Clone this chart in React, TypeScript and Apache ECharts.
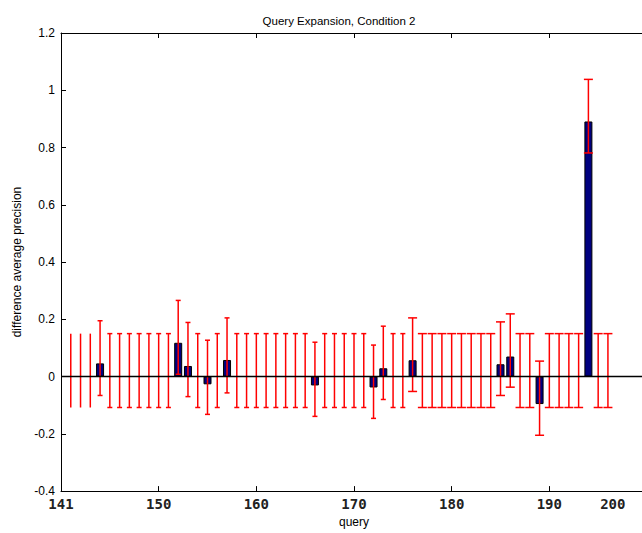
import React, { useEffect, useRef } from 'react';
import * as echarts from 'echarts';

const queries = [
  141, 142, 143, 144, 145, 146, 147, 148, 149, 150,
  151, 152, 153, 154, 155, 156, 157, 158, 159, 160,
  161, 162, 163, 164, 165, 166, 167, 168, 169, 170,
  171, 172, 173, 174, 175, 176, 177, 178, 179, 180,
  181, 182, 183, 184, 185, 186, 187, 188, 189, 190,
  191, 192, 193, 194, 195, 196,
];

const errLow = [
  -0.108, -0.108, -0.108, -0.066, -0.108, -0.108, -0.108, -0.108, -0.108, -0.108,
  -0.108, 0.008, -0.070, -0.108, -0.132, -0.108, -0.057, -0.108, -0.108, -0.108,
  -0.108, -0.108, -0.108, -0.108, -0.108, -0.139, -0.108, -0.108, -0.108, -0.108,
  -0.108, -0.146, -0.080, -0.108, -0.108, -0.052, -0.108, -0.108, -0.108, -0.108,
  -0.108, -0.108, -0.108, -0.108, -0.066, -0.037, -0.108, -0.108, -0.205, -0.108,
  -0.108, -0.108, -0.108, 0.781, -0.108, -0.108,
];

const errHigh = [
  0.15, 0.15, 0.15, 0.195, 0.15, 0.15, 0.15, 0.15, 0.15, 0.15,
  0.15, 0.266, 0.189, 0.15, 0.127, 0.15, 0.205, 0.15, 0.15, 0.15,
  0.15, 0.15, 0.15, 0.15, 0.15, 0.12, 0.15, 0.15, 0.15, 0.15,
  0.15, 0.11, 0.176, 0.15, 0.15, 0.205, 0.15, 0.15, 0.15, 0.15,
  0.15, 0.15, 0.15, 0.15, 0.191, 0.219, 0.15, 0.15, 0.054, 0.15,
  0.15, 0.15, 0.15, 1.038, 0.15, 0.15,
];

const barQueries = [144, 152, 153, 155, 157, 166, 172, 173, 176, 185, 186, 189, 194];
const barValues = [0.046, 0.118, 0.037, -0.027, 0.058, -0.031, -0.038, 0.029, 0.057, 0.043, 0.07, -0.096, 0.891];

const xTickValues = [150, 160, 170, 180, 190];
const xLabelValues = [140, 150, 160, 170, 180, 190, 196.5];
const xLabelTexts = ['141', '150', '160', '170', '180', '190', '200'];

const narrow = '"Liberation Sans Narrow", "Liberation Sans", Arial, sans-serif';
const mono = '"DejaVu Sans Mono", "Liberation Mono", monospace';

export default function App() {
  const ref = useRef<HTMLDivElement>(null);
  useEffect(() => {
    if (!ref.current) return;
    const chart = echarts.init(ref.current, undefined, { renderer: 'svg' });
    const errData = queries.map((q, i) => [q, errLow[i], errHigh[i]]);
    const barData = barQueries.map((q, i) => [q, barValues[i]]);
    const tickCommon = { show: true, inside: true, length: 5, lineStyle: { color: '#000', width: 1 } };
    chart.setOption({
      animation: false,
      backgroundColor: '#ffffff',
      title: {
        text: 'Query Expansion, Condition 2',
        left: 334,
        top: 10,
        textAlign: 'center',
        textStyle: { fontSize: 11.5, fontWeight: 'normal', color: '#000', fontFamily: narrow },
      },
      grid: { left: 61, right: 0, top: 33, bottom: 39, containLabel: false },
      xAxis: [
        {
          type: 'value',
          position: 'bottom',
          min: 140,
          max: 200,
          interval: 10,
          name: 'query',
          nameLocation: 'middle',
          nameGap: 24,
          nameTextStyle: { fontSize: 12, color: '#000', fontFamily: narrow },
          axisLine: { show: true, onZero: false, lineStyle: { color: '#000', width: 1 } },
          axisTick: { ...tickCommon, customValues: xTickValues },
          axisLabel: {
            show: true,
            margin: 6,
            customValues: xLabelValues,
            fontSize: 14,
            fontWeight: 'bold',
            color: '#222',
            fontFamily: mono,
            formatter: (v: number) => {
              const idx = xLabelValues.findIndex((x) => Math.abs(x - v) < 1e-6);
              return idx >= 0 ? xLabelTexts[idx] : '';
            },
          },
          splitLine: { show: false },
        },
        {
          type: 'value',
          position: 'top',
          min: 140,
          max: 200,
          interval: 10,
          axisLine: { show: true, onZero: false, lineStyle: { color: '#000', width: 1 } },
          axisTick: { ...tickCommon, customValues: xTickValues },
          axisLabel: { show: false },
          splitLine: { show: false },
        },
      ],
      yAxis: [
        {
          type: 'value',
          position: 'left',
          min: -0.4,
          max: 1.2,
          interval: 0.2,
          name: 'difference average precision',
          nameLocation: 'middle',
          nameGap: 38,
          nameTextStyle: { fontSize: 12, color: '#000', fontFamily: narrow },
          axisLine: { show: true, onZero: false, lineStyle: { color: '#000', width: 1 } },
          axisTick: tickCommon,
          axisLabel: { show: true, margin: 6, fontSize: 12, color: '#000', fontFamily: narrow },
          splitLine: { show: false },
        },
        {
          type: 'value',
          position: 'right',
          min: -0.4,
          max: 1.2,
          interval: 0.2,
          axisLine: { show: true, onZero: false, lineStyle: { color: '#000', width: 1 } },
          axisTick: tickCommon,
          axisLabel: { show: false },
          splitLine: { show: false },
        },
      ],
      series: [
        {
          type: 'bar',
          xAxisIndex: 0,
          yAxisIndex: 0,
          data: barData,
          barWidth: 8,
          itemStyle: { color: '#00007f', borderColor: '#000', borderWidth: 1 },
          z: 2,
        },
        {
          type: 'custom',
          xAxisIndex: 0,
          yAxisIndex: 0,
          data: errData,
          encode: { x: 0, y: [1, 2] },
          z: 3,
          renderItem: (params: any, api: any) => {
            const q = api.value(0);
            const top = api.coord([q, api.value(2)]);
            const bot = api.coord([q, api.value(1)]);
            const hw = q < 144 ? 0 : q < 176 ? 2.5 : 4.5;
            const style = { stroke: '#ff0000', lineWidth: 1.5 };
            const children: any[] = [
              { type: 'line', shape: { x1: top[0], y1: top[1], x2: bot[0], y2: bot[1] }, style },
            ];
            if (hw > 0) {
              children.push(
                { type: 'line', shape: { x1: top[0] - hw, y1: top[1], x2: top[0] + hw, y2: top[1] }, style },
                { type: 'line', shape: { x1: bot[0] - hw, y1: bot[1], x2: bot[0] + hw, y2: bot[1] }, style },
              );
            }
            return { type: 'group', children };
          },
        },
        {
          type: 'line',
          xAxisIndex: 0,
          yAxisIndex: 0,
          data: [[140, 0], [200, 0]],
          showSymbol: false,
          symbol: 'none',
          lineStyle: { color: '#000', width: 1.5 },
          z: 5,
          silent: true,
        },
      ],
    });
    return () => chart.dispose();
  }, []);
  return (
    <div
      style={{ position: 'absolute', left: 0, top: 0, width: 642, height: 533, overflow: 'hidden', background: '#fff' }}
    >
      <div ref={ref} style={{ width: 647, height: 533 }} />
    </div>
  );
}
